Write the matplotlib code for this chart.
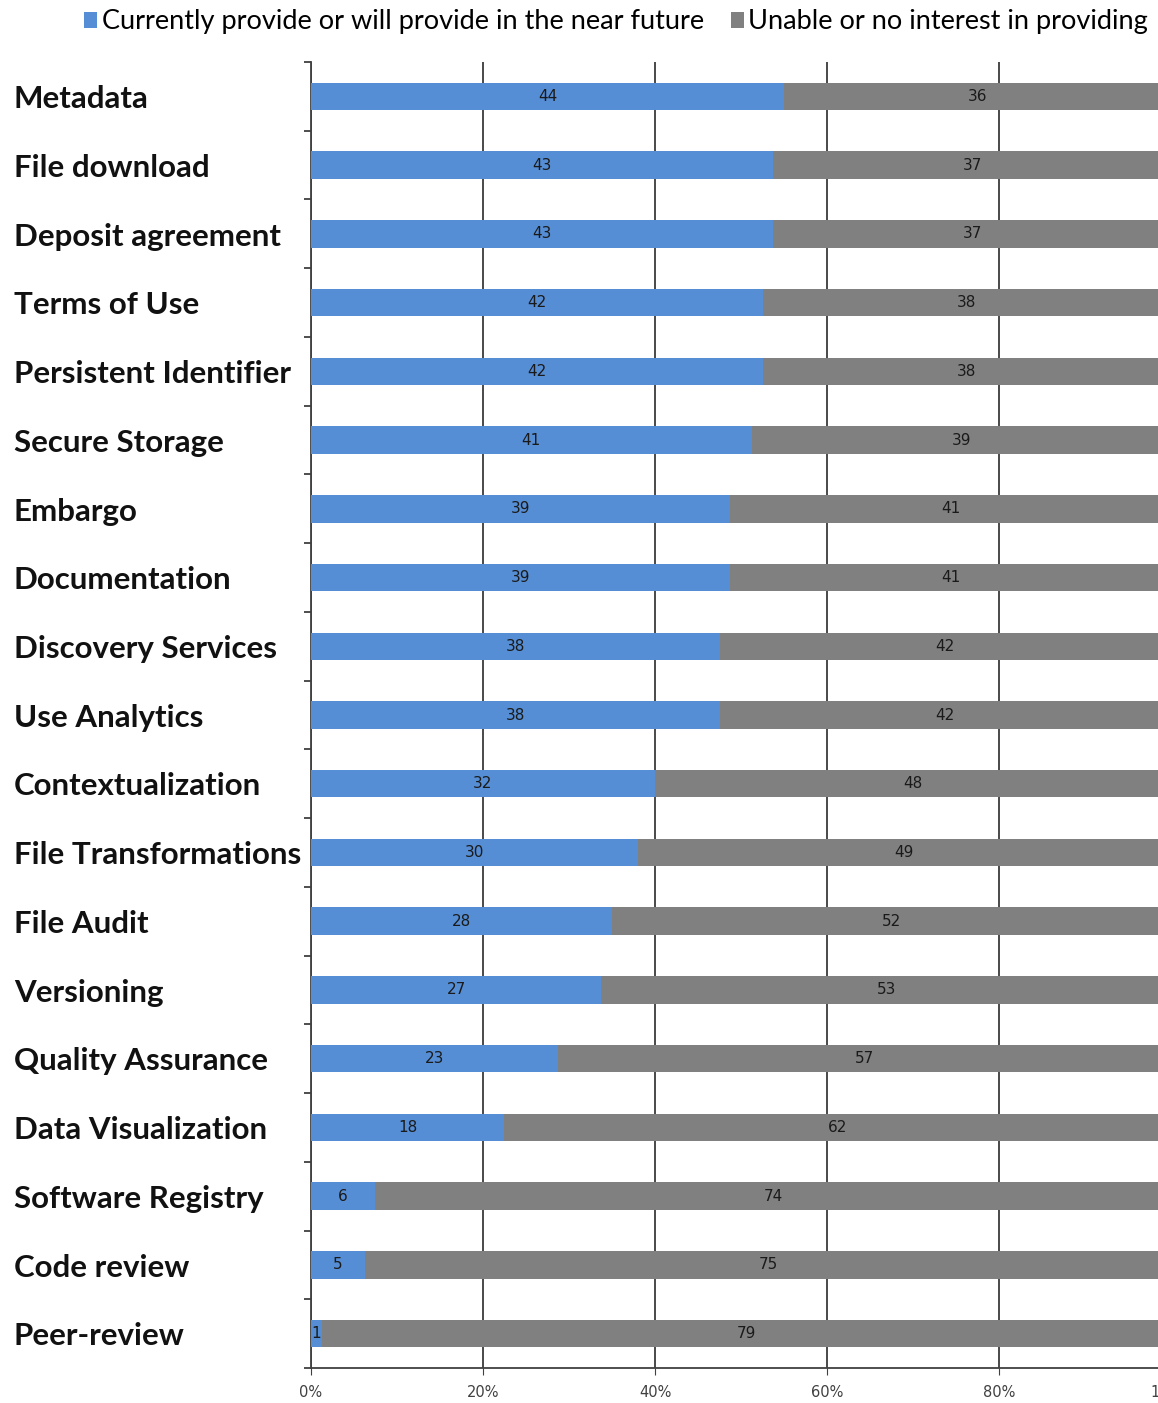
import numpy as np
import matplotlib.pyplot as plt
from matplotlib.ticker import PercentFormatter, FixedLocator
from matplotlib.transforms import blended_transform_factory

# categories (top to bottom) and counts
categories = ['Metadata', 'File download', 'Deposit agreement', 'Terms of Use',
              'Persistent Identifier', 'Secure Storage', 'Embargo', 'Documentation',
              'Discovery Services', 'Use Analytics', 'Contextualization',
              'File Transformations', 'File Audit', 'Versioning', 'Quality Assurance',
              'Data Visualization', 'Software Registry', 'Code review', 'Peer-review']
provide = [44, 43, 43, 42, 42, 41, 39, 39, 38, 38, 32, 30, 28, 27, 23, 18, 6, 5, 1]
unable = [36, 37, 37, 38, 38, 39, 41, 41, 42, 42, 48, 49, 52, 53, 57, 62, 74, 75, 79]
xticks = [0, 0.2, 0.4, 0.6, 0.8, 1.0]

blue = '#558ed5'
grey = '#808080'

provide = np.array(provide, dtype=float)
unable = np.array(unable, dtype=float)
total = provide + unable
p_frac = provide / total
u_frac = unable / total

fig = plt.figure(figsize=(11.58, 14.03), dpi=100)
# the right end of the axis runs past the picture edge, as in the original
ax = fig.add_axes([311 / 1158, 1 - 1368 / 1403, 860 / 1158, 1306 / 1403])

y = np.arange(len(categories))
b1 = ax.barh(y, p_frac, height=0.4, color=blue, zorder=3,
             label='Currently provide or will provide in the near future')
b2 = ax.barh(y, u_frac, left=p_frac, height=0.4, color=grey, zorder=3,
             label='Unable or no interest in providing')

for i in range(len(categories)):
    ax.text(p_frac[i] / 2, y[i], str(int(provide[i])), ha='center', va='center',
            fontsize=11, color='#1a1a1a', zorder=4)
    ax.text(p_frac[i] + u_frac[i] / 2, y[i], str(int(unable[i])), ha='center',
            va='center', fontsize=11, color='#1a1a1a', zorder=4)

ax.set_ylim(len(categories) - 0.5, -0.5)
ax.set_xlim(0, 1)
ax.set_xticks(xticks)
ax.xaxis.set_major_formatter(PercentFormatter(1.0, decimals=0))
ax.tick_params(axis='x', labelsize=10.5, labelcolor='#404040', length=5,
               color='#404040', pad=7)
ax.grid(axis='x', color='#3a3a3a', linewidth=1.3, zorder=0)

ax.set_yticks([])
ax.yaxis.set_minor_locator(FixedLocator(np.arange(-0.5, len(categories), 1)))
ax.tick_params(axis='y', which='minor', length=5, width=1.3, color='#404040')

for s in ['top', 'right']:
    ax.spines[s].set_visible(False)
for s in ['left', 'bottom']:
    ax.spines[s].set_color('#404040')
    ax.spines[s].set_linewidth(1.3)

trans = blended_transform_factory(fig.transFigure, ax.transData)
for i, c in enumerate(categories):
    ax.text(14 / 1158, y[i] + 0.04, c, transform=trans, ha='left', va='center',
            fontsize=22.5, fontweight='bold', family='Lato', color='#111111')

fig.legend(handles=[b1, b2], loc='center', bbox_to_anchor=(616 / 1158, 1 - 22 / 1403),
           ncol=2, frameon=False, prop={'family': 'Lato', 'size': 19.5},
           handlelength=0.5, handleheight=0.5, handletextpad=0.15, columnspacing=1.0)

plt.savefig('out.png', dpi=100)
